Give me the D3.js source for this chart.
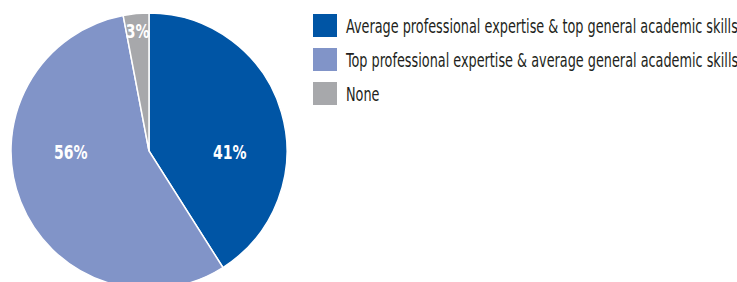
<!DOCTYPE html>
<html>
<head>
<meta charset="utf-8">
<script src="https://cdn.jsdelivr.net/npm/d3@7"></script>
<style>
  body { margin: 0; background: #fff; }
  svg text { font-family: "DejaVu Sans Condensed", "DejaVu Sans", sans-serif; }
</style>
</head>
<body>
<svg id="chart" width="737" height="282"></svg>
<script>
var categories = [
  'Average professional expertise & top general academic skills',
  'Top professional expertise & average general academic skills',
  'None'
];
var values = [41, 56, 3];
var colors = ['#0055a5', '#8194c8', '#a7a8ab'];

var svg = d3.select('#chart'),
    cx = 149, cy = 151, radius = 138;

var pie = d3.pie().sort(null).value(function(d) { return d; });
var arcs = pie(values);
var arc = d3.arc().innerRadius(0).outerRadius(radius);

var g = svg.append('g').attr('transform', 'translate(' + cx + ',' + cy + ')');

g.selectAll('path')
  .data(arcs)
  .enter().append('path')
    .attr('d', arc)
    .attr('fill', function(d, i) { return colors[i]; })
    .attr('stroke', '#fff')
    .attr('stroke-width', 1.5);

// labels: condensed look by squeezing horizontally
var labels = g.selectAll('text.lbl')
  .data(arcs)
  .enter().append('text')
    .attr('class', 'lbl')
    .attr('text-anchor', 'middle')
    .attr('fill', '#fff')
    .attr('font-size', 19)
    .attr('font-weight', 'bold')
    .text(function(d) { return d.data + '%'; });

labels.attr('transform', function(d) {
  var a = (d.startAngle + d.endAngle) / 2, x, y;
  if (d.data < 10) {
    x = Math.sin(a) * radius * 0.87;
    y = -Math.cos(a) * radius * 0.87 + 6.5;
  } else {
    x = Math.sin(a) * radius * 0.61;
    y = 8;
  }
  return 'translate(' + x + ',' + y + ') scale(0.82,1)';
});

var legend = svg.append('g')
  .selectAll('g')
  .data(categories)
  .enter().append('g')
    .attr('transform', function(d, i) { return 'translate(313,' + (14 + i * 34) + ')'; });

legend.append('rect')
  .attr('width', 24)
  .attr('height', 23)
  .attr('fill', function(d, i) { return colors[i]; });

var ltext = legend.append('text')
  .attr('fill', '#231f20')
  .attr('font-size', 19)
  .text(function(d) { return d; });

var w0 = ltext.node().getComputedTextLength();
var k = 392 / w0;
ltext.attr('transform', 'translate(33,18.5) scale(' + k + ',1)');
</script>
</body>
</html>
